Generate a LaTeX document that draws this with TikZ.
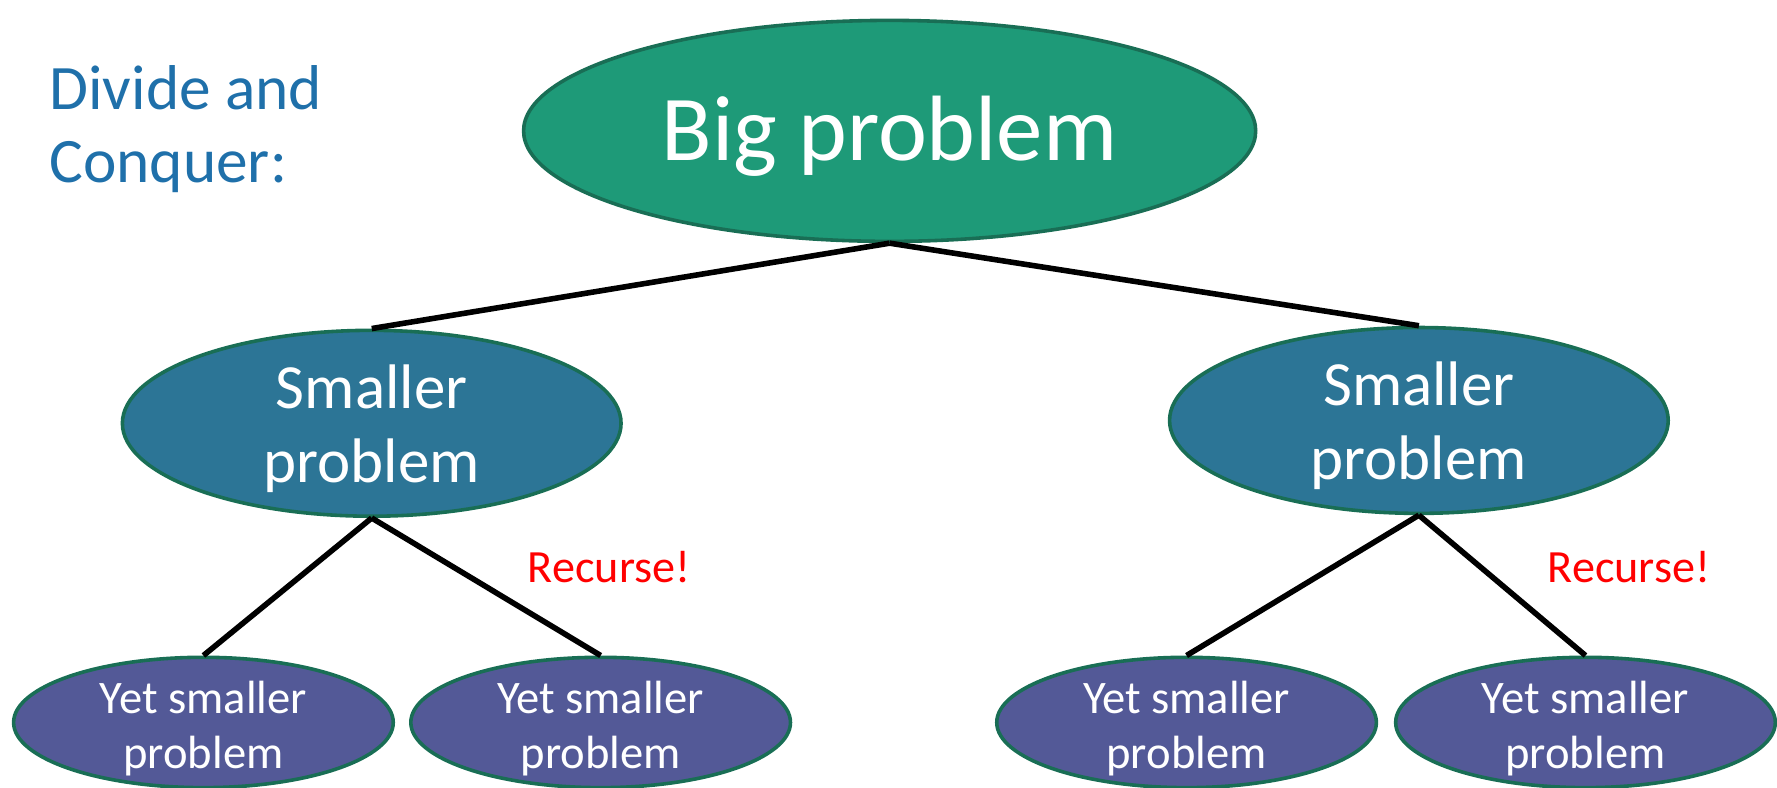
\documentclass[tikz,border=0pt]{standalone}
\usepackage{fontspec}
\setmainfont{Carlito}
\usetikzlibrary{shapes.geometric}
\definecolor{bigfill}{RGB}{30,154,120}
\definecolor{midfill}{RGB}{44,117,150}
\definecolor{lowfill}{RGB}{83,89,151}
\definecolor{rimgreen}{RGB}{25,110,85}
\definecolor{titleblue}{RGB}{31,112,170}
\newcommand{\padtop}[1]{\rule{0pt}{#1}}
\tikzset{
  blob/.style={ellipse, draw=rimgreen, line width=0.9pt, inner xsep=0pt, inner ysep=-12pt, text=white, align=center},
  bigblob/.style={blob, fill=bigfill, minimum width=6.46cm, minimum height=1.95cm, font=\fontsize{23.3}{27}\selectfont},
  midblob/.style={blob, fill=midfill, minimum width=4.40cm, minimum height=1.64cm, font=\fontsize{15.8}{18.5}\selectfont},
  lowblob/.style={blob, fill=lowfill, minimum width=3.35cm, minimum height=1.15cm, font=\fontsize{11.7}{13.7}\selectfont},
  link/.style={line width=1.4pt, black},
  recnote/.style={text=red, font=\fontsize{11.6}{14}\selectfont, inner sep=0pt}
}
\begin{document}
\begin{tikzpicture}
\useasboundingbox (0,0) rectangle (15.68,-6.953);
\clip (0,0) rectangle (15.68,-6.953);
\node[anchor=north west, inner sep=0pt, align=left, text=titleblue, font=\fontsize{15.9}{18.4}\selectfont] (title) at (0.43,-0.57) {Divide and\\Conquer:};
\node[bigblob] (big) at (7.85,-1.155) {\padtop{19pt}Big problem};
\node[midblob] (ml) at (3.28,-3.735) {\padtop{13.6pt}Smaller\\problem};
\node[midblob] (mr) at (12.52,-3.71) {\padtop{13.6pt}Smaller\\problem};
\node[lowblob] (l1) at (1.795,-6.375) {\padtop{11.2pt}Yet smaller\\problem};
\node[lowblob] (l2) at (5.30,-6.375) {\padtop{11.2pt}Yet smaller\\problem};
\node[lowblob] (l3) at (10.47,-6.375) {\padtop{11.2pt}Yet smaller\\problem};
\node[lowblob] (l4) at (13.99,-6.375) {\padtop{11.2pt}Yet smaller\\problem};
\draw[link] (big.south) -- (ml.north);
\draw[link] (big.south) -- (mr.north);
\draw[link] (ml.south) -- (l1.north);
\draw[link] (ml.south) -- (l2.north);
\draw[link] (mr.south) -- (l3.north);
\draw[link] (mr.south) -- (l4.north);
\node[recnote] (rec1) at (5.375,-5.0) {Recurse!};
\node[recnote] (rec2) at (14.375,-5.0) {Recurse!};
\end{tikzpicture}
\end{document}
